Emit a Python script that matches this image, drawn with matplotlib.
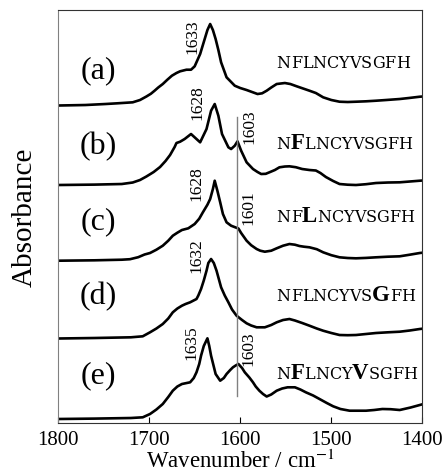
import numpy as np
import matplotlib.pyplot as plt
from matplotlib.offsetbox import TextArea, HPacker, AnnotationBbox

# spectra (wavenumber in cm-1, absorbance in arbitrary units)
wn_a = [1800, 1770, 1748, 1735, 1718, 1710, 1703, 1698, 1694, 1690, 1685, 1680, 1675, 1670, 1666,
        1659, 1654, 1650, 1644, 1639, 1636, 1633, 1630, 1627, 1624, 1621, 1615, 1606, 1600, 1593,
        1587, 1581, 1576, 1571, 1566, 1560, 1551, 1545, 1538, 1531, 1524, 1517, 1509, 1500, 1491,
        1482, 1473, 1462, 1451, 1440, 1425, 1415, 1403, 1400]
abs_a = [0, 0.005, 0.015, 0.022, 0.032, 0.055, 0.09, 0.118, 0.148, 0.18, 0.215, 0.258, 0.298, 0.325, 0.342,
         0.358, 0.358, 0.392, 0.515, 0.665, 0.755, 0.815, 0.755, 0.665, 0.555, 0.432, 0.282, 0.198, 0.175, 0.155,
         0.135, 0.115, 0.122, 0.148, 0.18, 0.215, 0.225, 0.215, 0.192, 0.17, 0.148, 0.125, 0.082, 0.055, 0.038,
         0.035, 0.038, 0.042, 0.048, 0.055, 0.065, 0.075, 0.088, 0.09]

wn_b = [1800, 1760, 1730, 1718, 1710, 1703, 1695, 1688, 1682, 1677, 1672, 1670, 1666, 1661, 1654,
        1648, 1644, 1637, 1632, 1628, 1624, 1620, 1613, 1610, 1606, 1603, 1599, 1593, 1586, 1581,
        1577, 1572, 1568, 1562, 1557, 1551, 1546, 1539, 1532, 1524, 1517, 1512, 1506, 1498, 1491,
        1482, 1473, 1462, 1451, 1438, 1425, 1414, 1403, 1400]
abs_b = [0, 0.004, 0.01, 0.025, 0.05, 0.085, 0.13, 0.18, 0.24, 0.30, 0.38, 0.42, 0.433, 0.46, 0.51,
         0.46, 0.427, 0.56, 0.743, 0.81, 0.693, 0.51, 0.377, 0.36, 0.393, 0.437, 0.343, 0.227, 0.16, 0.13,
         0.11, 0.112, 0.127, 0.15, 0.177, 0.185, 0.187, 0.178, 0.16, 0.15, 0.145, 0.12, 0.08, 0.04, 0.01,
         0.003, 0.0, 0.008, 0.02, 0.025, 0.027, 0.035, 0.043, 0.045]

wn_c = [1800, 1760, 1730, 1721, 1712, 1705, 1699, 1692, 1685, 1679, 1674, 1669, 1664, 1657, 1650,
        1645, 1641, 1636, 1633, 1630, 1628, 1625, 1622, 1619, 1615, 1610, 1602, 1599, 1593, 1588,
        1582, 1578, 1573, 1566, 1560, 1553, 1546, 1540, 1535, 1530, 1524, 1516, 1509, 1500, 1491,
        1482, 1473, 1462, 1451, 1438, 1425, 1414, 1403, 1400]
abs_c = [0, 0.004, 0.01, 0.015, 0.035, 0.062, 0.077, 0.11, 0.15, 0.2, 0.25, 0.28, 0.307, 0.324, 0.367,
         0.42, 0.484, 0.56, 0.617, 0.717, 0.80, 0.697, 0.584, 0.467, 0.384, 0.35, 0.322, 0.277, 0.20, 0.155,
         0.117, 0.1, 0.09, 0.1, 0.124, 0.15, 0.167, 0.16, 0.147, 0.14, 0.134, 0.115, 0.084, 0.055, 0.034,
         0.027, 0.024, 0.028, 0.034, 0.04, 0.044, 0.06, 0.077, 0.08]

wn_d = [1800, 1760, 1720, 1707, 1699, 1692, 1685, 1679, 1674, 1669, 1664, 1660, 1655, 1648, 1646,
        1643, 1640, 1637, 1635, 1632, 1629, 1626, 1621, 1617, 1613, 1609, 1604, 1598, 1593, 1588,
        1582, 1573, 1566, 1560, 1553, 1546, 1540, 1532, 1524, 1516, 1509, 1500, 1491, 1482, 1473,
        1462, 1451, 1438, 1425, 1414, 1403, 1400]
abs_d = [0, 0.005, 0.012, 0.022, 0.062, 0.1, 0.145, 0.2, 0.262, 0.3, 0.328, 0.345, 0.362, 0.395, 0.43,
         0.495, 0.58, 0.678, 0.755, 0.795, 0.755, 0.678, 0.512, 0.43, 0.362, 0.29, 0.228, 0.185, 0.152, 0.13,
         0.112, 0.112, 0.135, 0.162, 0.185, 0.195, 0.18, 0.155, 0.128, 0.1, 0.078, 0.055, 0.035, 0.033, 0.035,
         0.045, 0.055, 0.062, 0.068, 0.08, 0.095, 0.098]

wn_e = [1800, 1760, 1720, 1707, 1699, 1692, 1685, 1679, 1674, 1669, 1664, 1655, 1651, 1648, 1645,
        1643, 1640, 1636, 1634, 1632, 1627, 1622, 1618, 1615, 1611, 1608, 1605, 1602, 1598, 1595,
        1590, 1586, 1583, 1579, 1575, 1571, 1566, 1560, 1554, 1548, 1540, 1534, 1528, 1520, 1513,
        1505, 1498, 1490, 1480, 1470, 1462, 1453, 1444, 1435, 1425, 1413, 1401]
abs_e = [0, 0.004, 0.01, 0.017, 0.05, 0.095, 0.15, 0.22, 0.283, 0.325, 0.35, 0.367, 0.41, 0.467, 0.55,
         0.633, 0.73, 0.807, 0.73, 0.633, 0.45, 0.383, 0.41, 0.45, 0.49, 0.517, 0.535, 0.55, 0.51, 0.467,
         0.415, 0.367, 0.325, 0.283, 0.25, 0.225, 0.245, 0.283, 0.305, 0.317, 0.317, 0.295, 0.267, 0.235, 0.20,
         0.16, 0.127, 0.1, 0.083, 0.083, 0.083, 0.09, 0.10, 0.098, 0.09, 0.115, 0.145]

spectra = [(wn_a, abs_a), (wn_b, abs_b), (wn_c, abs_c), (wn_d, abs_d), (wn_e, abs_e)]
offsets = [3.175, 2.38, 1.623, 0.845, 0.04]

panel_labels = ["(a)", "(b)", "(c)", "(d)", "(e)"]
sequence = "NFLNCYVSGFH"
bold_pos = [[], [1], [2], [8], [1, 6]]  # mutated residues printed in bold

# peak annotations: (text, wavenumber, height)
peak_labels = [("1633", 1652, 3.87), ("1628", 1647, 3.21), ("1603", 1590, 2.97),
               ("1628", 1648, 2.40), ("1601", 1591, 2.16), ("1632", 1648, 1.68),
               ("1635", 1653.5, 0.81), ("1603", 1591, 0.75)]

xticks = [1800, 1700, 1600, 1500, 1400]

plt.rcParams['mathtext.fontset'] = 'stix'
serif = 'Liberation Serif'

fig = plt.figure(figsize=(4.45, 4.77), dpi=100)
ax = fig.add_axes([0.1303, 0.1111, 0.8191, 0.8658])

for (wn, ab), off in zip(spectra, offsets):
    ax.plot(wn, np.array(ab) + off, color='black', lw=1.9, solid_joinstyle='round')

# marker line at 1603 cm-1
ax.plot([1603, 1603], [0.27, 3.06], color='#808080', lw=1.0)

label_y = [3.53, 2.77, 2.02, 1.27, 0.48]
for lab, y in zip(panel_labels, label_y):
    ax.text(1756, y, lab, fontsize=23, family=serif, ha='center', va='center')

for txt, w, y in peak_labels:
    ax.text(w, y, txt, fontsize=12.5, family=serif, rotation=90, ha='center', va='center')

seq_y = [3.52, 2.70, 1.97, 1.18, 0.40]
for bold, y in zip(bold_pos, seq_y):
    parts = []
    for i, ch in enumerate(sequence):
        if i in bold:
            parts.append(TextArea(ch, textprops=dict(fontsize=16.5, family=serif, fontweight='bold')))
        else:
            parts.append(TextArea(ch, textprops=dict(fontsize=11.5, family='DejaVu Serif')))
    box = HPacker(children=parts, align="baseline", pad=0, sep=0)
    ab = AnnotationBbox(box, (1560, y), xycoords='data', box_alignment=(0, 0),
                        frameon=False, pad=0)
    ax.add_artist(ab)

ax.set_xlim(1800, 1400)
ax.set_ylim(0, 4.13)
ax.set_xticks(xticks)
ax.set_xticklabels([str(t) for t in xticks], family=serif, fontsize=15)
ax.set_yticks([])
ax.tick_params(axis='x', direction='in', length=4, pad=5)
ax.spines['left'].set_color('#808080')
for s in ['top', 'right', 'bottom']:
    ax.spines[s].set_color('#333333')

ax.set_xlabel('Wavenumber / cm$^{-1}$', family=serif, fontsize=16.5, labelpad=0)
ax.text(-0.09, 0.5, 'Absorbance', transform=ax.transAxes, rotation=90,
        ha='center', va='center', family=serif, fontsize=21)

fig.savefig('out.png', dpi=100)
